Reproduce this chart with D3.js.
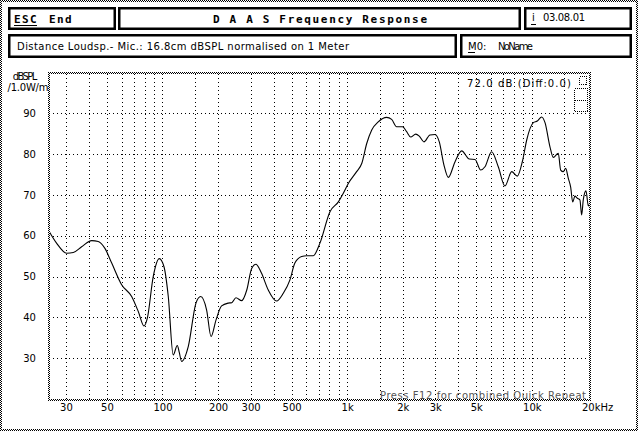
<!DOCTYPE html>
<html><head><meta charset="utf-8">
<script src="https://cdn.jsdelivr.net/npm/d3@7"></script>
<style>
html,body{margin:0;padding:0;background:#fff;}
svg{display:block;}
</style>
</head><body>
<script>
// ---- data ----
const freqs = [24.4,26.7,30.3,32.9,36.5,41.4,44.9,48.8,53.1,60.1,68.1,74.0,79.4,82.8,89.1,96.1,101.9,107.5,114.3,120.3,123.3,127.0,138,151.8,160.9,173.4,183.2,195,209,227,237,250,268.5,286,304,321,334,344,374,415,451,490,521,567,604,655,712,807,896,953,1014,1125,1199,1276,1358,1473,1636,1741,1853,1995,2099,2207,2350,2457,2604,2808,2987,3153,3342,3528,3834,4168,4583,4922,5283,5572,6055,6578,7147,7777,8337,8916,9370,10186,10700,11300,11780,12530,13060,13900,14320,14790,15240,15740,16220,16630,17110,17620,18200,18600,18980,19630,20220,20600];
const splValues = [61.0,58.2,55.7,55.9,57.3,58.8,58.6,56.9,53.3,48.0,45.1,41.4,37.9,39.8,50.0,54.4,52.4,45.1,30.8,33.1,31.4,29.2,32.9,43.5,45.1,41.8,35.3,39.4,42.8,43.5,43.6,44.8,44.1,46.7,52.0,53.0,52.0,50.8,46.7,44.0,45.9,49.2,53.3,54.9,55.1,55.1,58.2,65.9,68.3,70.4,72.8,75.7,77.7,82.6,85.9,87.9,89.0,88.5,86.7,86.7,85.5,84.2,84.9,84.4,83.0,84.7,84.8,83.0,77.3,74.3,78.1,80.8,78.8,78.7,76.1,76.9,80.6,76.9,72.2,75.7,74.6,78.5,83.4,87.7,88.1,89.1,87.7,81.8,79.2,80.2,76.1,75.7,76.5,74.1,71.9,68.3,69.7,69.2,68.8,65.1,68.8,71.0,67.3,67.9];
const gridFreqs = [30,40,50,60,70,80,90,100,150,200,300,400,500,600,700,800,900,1000,1500,2000,3000,4000,5000,6000,7000,8000,9000,10000,15000];
const labelFreqs = [30,50,100,200,300,500,1000,2000,3000,5000,10000,20000];
const labelTexts = ["30","50","100","200","300","500","1k","2k","3k","5k","10k","20kHz"];
const dbTicks = [30,40,50,60,70,80,90];
const yUnitLines = ["dBSPL","/1.0W/m"];
const headerTitle = "D A A S  Frequency Response";
const infoLine = "Distance Loudsp.- Mic.: 16.8cm dBSPL normalised on 1 Meter";
const levelNote = "72.0 dB (Diff:0.0)";
const footNote = "Press F12 for combined Quick Repeat";

// ---- drawing ----
const W = 640, H = 431;
const svg = d3.select("body").append("svg").attr("width", W).attr("height", H);
const defs = svg.append("defs");
const pat = defs.append("pattern").attr("id","chk").attr("width",2).attr("height",2).attr("patternUnits","userSpaceOnUse");
pat.append("rect").attr("width",2).attr("height",2).attr("fill","#fff");
pat.append("rect").attr("x",0).attr("y",0).attr("width",1).attr("height",1).attr("fill","#000");
pat.append("rect").attr("x",1).attr("y",1).attr("width",1).attr("height",1).attr("fill","#000");

svg.append("rect").attr("width",W).attr("height",H).attr("fill","#fff");

function ditherFrame(x0,y0,x1,y1,t){
  const g = svg.append("g").attr("fill","url(#chk)").attr("shape-rendering","crispEdges");
  g.append("rect").attr("x",x0).attr("y",y0).attr("width",x1-x0).attr("height",t);
  g.append("rect").attr("x",x0).attr("y",y1-t).attr("width",x1-x0).attr("height",t);
  g.append("rect").attr("x",x0).attr("y",y0).attr("width",t).attr("height",y1-y0);
  g.append("rect").attr("x",x1-t).attr("y",y0).attr("width",t).attr("height",y1-y0);
}
ditherFrame(0,0,638,431,2);

// header boxes
const boxes = [[8,7,116,30],[118,7,521,30],[524,7,632,30],[8,34,457,58],[460,34,632,58]];
const sw = 2.5;
svg.append("g").selectAll("rect").data(boxes).join("rect")
  .attr("x",d=>d[0]+sw/2).attr("y",d=>d[1]+sw/2)
  .attr("width",d=>d[2]-d[0]-sw).attr("height",d=>d[3]-d[1]-sw)
  .attr("fill","none").attr("stroke","#000").attr("stroke-width",sw);

const mono = "'DejaVu Sans Mono', monospace";
const sans = "'DejaVu Sans', sans-serif";
function txt(x,y,s,opt){
  const t = svg.append("text").attr("x",x).attr("y",y).text(s)
    .attr("font-family",opt.ff||sans).attr("font-size",opt.fs||10)
    .attr("font-weight",opt.fw||"normal").attr("fill",opt.fill||"#000");
  if(opt.anchor) t.attr("text-anchor",opt.anchor);
  if(opt.len) t.attr("textLength",opt.len).attr("lengthAdjust","spacing");
  return t;
}
function uline(x0,x1,y){
  svg.append("line").attr("x1",x0).attr("x2",x1).attr("y1",y).attr("y2",y)
    .attr("stroke","#000").attr("stroke-width",1).attr("shape-rendering","crispEdges");
}
txt(14,22.5,"ESC",{ff:mono,fw:"bold",fs:11,len:22.5});
uline(14,37,25.5);
txt(49,22.5,"End",{ff:mono,fw:"bold",fs:11,len:22.5});
txt(213,22.5,headerTitle,{ff:mono,fw:"bold",fs:11,len:214});
txt(532,21,"i",{fs:10});
uline(531,536,24.5);
txt(543,21,"03.08.01",{fs:10,len:42});
txt(17,49.5,infoLine,{fs:10,len:332});
txt(468,49.5,"M0:",{fs:10});
uline(468,475,52.5);
txt(498,49.5,"NoName",{fs:10,len:35});

// plot
const x = d3.scaleLog().domain([24.3,20640]).range([49,590]);
const y = d3.scaleLinear().domain([20,100]).range([399,72.5]);

const gx = svg.append("g").attr("transform","translate(0,399)")
  .call(d3.axisBottom(x).tickValues(gridFreqs).tickSize(-(399-73)).tickFormat(""));
gx.select(".domain").remove();
gx.selectAll(".tick line").attr("stroke","#000").attr("stroke-dasharray","1,3").attr("shape-rendering","crispEdges");
gx.selectAll(".tick").attr("transform",d=>`translate(${Math.round(x(d))+0.5},0)`);

const gy = svg.append("g").attr("transform","translate(49,0)")
  .call(d3.axisLeft(y).tickValues(dbTicks).tickSize(-(590-49)).tickFormat(""));
gy.select(".domain").remove();
gy.selectAll(".tick line").attr("stroke","#000").attr("stroke-dasharray","1,3").attr("shape-rendering","crispEdges");
gy.selectAll(".tick").attr("transform",d=>`translate(0,${Math.round(y(d))+0.5})`);

const lx = svg.append("g").attr("transform","translate(0,402)")
  .call(d3.axisBottom(x).tickValues(labelFreqs).tickSize(0).tickPadding(0)
    .tickFormat((d,i)=>labelTexts[i]));
lx.select(".domain").remove();
lx.selectAll("text").attr("font-family",sans).attr("font-size",10).attr("fill","#000").attr("dy","0.71em")
  .attr("y",2);
lx.selectAll("text").filter(d=>d===20000).attr("text-anchor","start").attr("dx",-6);

const ly = svg.append("g").attr("transform","translate(29.5,0)")
  .call(d3.axisLeft(y).tickValues(dbTicks).tickSize(0).tickPadding(0));
ly.select(".domain").remove();
ly.selectAll("text").attr("font-family",sans).attr("font-size",10).attr("fill","#000")
  .attr("text-anchor","middle").attr("x",0);

txt(25,80,yUnitLines[0],{fs:10,anchor:"middle",len:24.5});
txt(7.5,90.5,yUnitLines[1],{fs:10,len:41});

const line = d3.line().x((d,i)=>x(freqs[i])).y(d=>y(d)).curve(d3.curveMonotoneX);
svg.append("path").attr("d",line(splValues)).attr("fill","none").attr("stroke","#000").attr("stroke-width",1.1);

txt(467,86.5,levelNote,{fs:10,len:104});
const small = svg.append("g").attr("fill","none").attr("stroke","#000").attr("stroke-dasharray","1,1").attr("shape-rendering","crispEdges");
small.append("rect").attr("x",574.5).attr("y",88.5).attr("width",13).attr("height",23);
small.append("rect").attr("x",579.5).attr("y",76.5).attr("width",7).attr("height",8);
small.append("line").attr("x1",574.5).attr("x2",587.5).attr("y1",100.5).attr("y2",100.5);

txt(380,398.5,footNote,{fs:10,len:206,fill:"#555"});

ditherFrame(48,72,591,401,2);
</script>
</body></html>
